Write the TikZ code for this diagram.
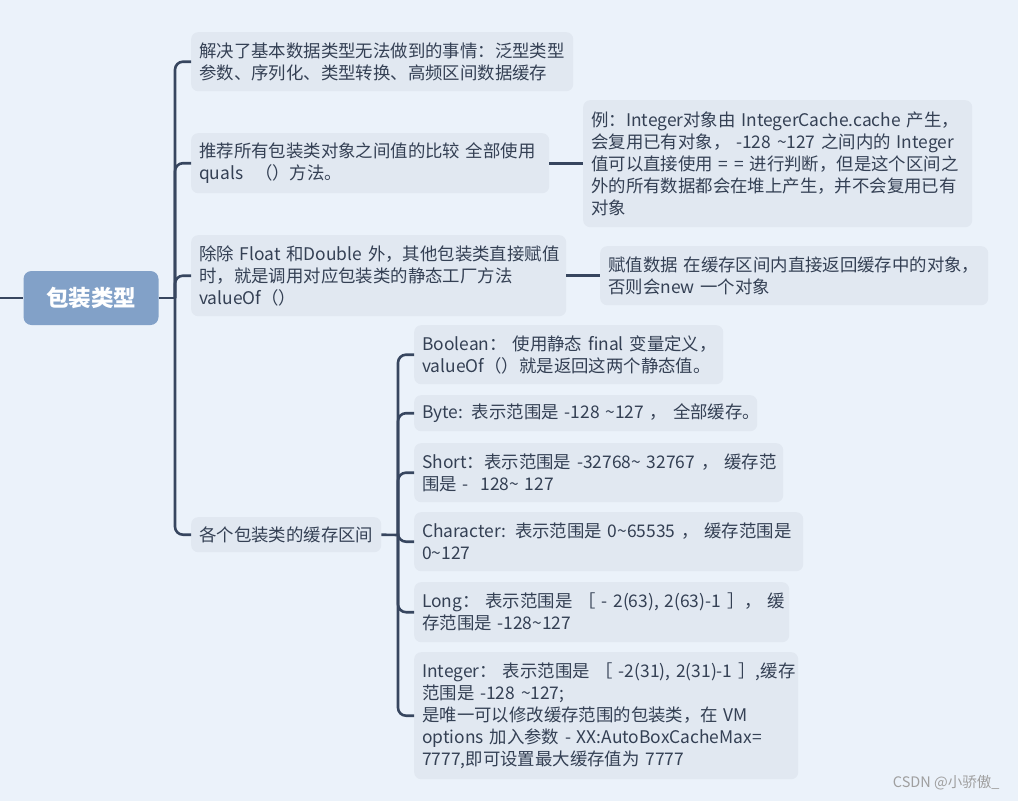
\documentclass[tikz,border=0pt]{standalone}
\usepackage{fontspec}
\setmainfont{Noto Sans CJK SC}
\usetikzlibrary{positioning,backgrounds}

\definecolor{bgblue}{RGB}{235,242,250}
\definecolor{topicfill}{RGB}{225,232,241}
\definecolor{rootfill}{RGB}{130,161,200}
\definecolor{linkcol}{RGB}{55,70,95}
\definecolor{textcol}{RGB}{52,64,84}

\begin{document}
\begin{tikzpicture}[
x=1pt, y=-1pt,
topicbox/.style={
    fill=topicfill,
    rounded corners=7pt,
    anchor=north west,
    inner xsep=8pt,
    inner ysep=0pt,
    align=left,
    text=textcol,
    font=\fontsize{17.4}{22}\selectfont
    },
rootbox/.style={
    fill=rootfill,
    rounded corners=8pt,
    text=white,
    font=\fontsize{22.5}{26}\selectfont\bfseries,
    minimum width=135pt,
    minimum height=54pt,
    inner sep=0pt
    },
linkline/.style={draw=linkcol, line width=2.6pt},
branchline/.style={linkline, rounded corners=8pt}
]

\path[use as bounding box, fill=bgblue] (0,0) rectangle (1018,801);

% central topic
\node[rootbox] (root) at (91,298) {包装类型};
\coordinate (lstub) at (0,298);
\coordinate (rjoin) at (175,298);

% first level
\node[topicbox, text width=366pt, minimum height=59pt] (usage) at (191,32)
    {\mbox{解决了基本数据类型无法做到的事情：泛型类型}\\
     \mbox{参数、序列化、类型转换、高频区间数据缓存}};
\node[topicbox, text width=342pt, minimum height=60pt] (equals) at (191,133)
    {\mbox{推荐所有包装类对象之间值的比较 全部使用}\\
     \mbox{quals \ （）方法。}};
\node[topicbox, text width=373pt, minimum height=127pt] (cacheex) at (583,100)
    {\mbox{例：Integer对象由 IntegerCache.cache 产生，}\\
     \mbox{会复用已有对象， -128 \textasciitilde127 之间内的 Integer}\\
     \mbox{值可以直接使用 = = 进行判断，但是这个区间之}\\
     \mbox{外的所有数据都会在堆上产生，并不会复用已有}\\
     \mbox{对象}};
\node[topicbox, text width=359pt, minimum height=81pt] (valueof) at (191,235)
    {\mbox{除除 Float 和Double 外，其他包装类直接赋值}\\
     \mbox{时，就是调用对应包装类的静态工厂方法}\\
     \mbox{valueOf（）}};
\node[topicbox, text width=372pt, minimum height=59pt] (assign) at (600,246)
    {\mbox{赋值数据 在缓存区间内直接返回缓存中的对象，}\\
     \mbox{否则会new 一个对象}};
\node[topicbox, text width=174pt, minimum height=35pt] (ranges) at (191,517)
    {\mbox{各个包装类的缓存区间}};
\coordinate (sjoin) at (398,535);

% cache ranges
\node[topicbox, text width=293pt, minimum height=59pt] (boolean) at (414,325)
    {\mbox{Boolean： 使用静态 final 变量定义，}\\
     \mbox{valueOf（）就是返回这两个静态值。}};
\node[topicbox, text width=327pt, minimum height=36pt] (byte) at (414,395)
    {\mbox{Byte: 表示范围是 -128 \textasciitilde127 ， 全部缓存。}};
\node[topicbox, text width=353pt, minimum height=59pt] (short) at (414,443)
    {\mbox{Short：表示范围是 -32768\textasciitilde{} 32767 ， 缓存范}\\
     \mbox{围是 - \ 128\textasciitilde{} 127}};
\node[topicbox, text width=373pt, minimum height=59pt] (character) at (414,512)
    {\mbox{Character: 表示范围是 0\textasciitilde65535 ， 缓存范围是}\\
     \mbox{0\textasciitilde127}};
\node[topicbox, text width=359pt, minimum height=60pt] (long) at (414,582)
    {\mbox{Long： 表示范围是 ［ - 2(63), 2(63)-1 ］， 缓}\\
     \mbox{存范围是 -128\textasciitilde127}};
\node[topicbox, text width=368pt, minimum height=127pt] (integer) at (414,652)
    {\mbox{Integer： 表示范围是 ［ -2(31), 2(31)-1 ］,缓存}\\
     \mbox{范围是 -128 \textasciitilde127;}\\
     \mbox{是唯一可以修改缓存范围的包装类，在 VM}\\
     \mbox{options 加入参数 - XX:AutoBoxCacheMax=}\\
     \mbox{7777,即可设置最大缓存值为 7777}};

\node[anchor=east, text=gray!75, font=\fontsize{14.5}{16}\selectfont] (mark) at (1003,783) {CSDN @小骄傲\_};

% connectors
\draw[linkline] (lstub) -- (root.west);
\draw[linkline] (root.east) -- (rjoin);
\draw[branchline] (rjoin) |- (usage.west);
\draw[branchline] (rjoin) |- (equals.west);
\draw[branchline] (rjoin) |- (valueof.west);
\draw[branchline] (rjoin) |- (ranges.west);
\draw[linkline] (equals.east) -- (cacheex.west |- equals.east);
\draw[linkline] (valueof.east) -- (assign.west |- valueof.east);
\draw[linkline] (ranges.east) -- (sjoin);
\draw[branchline] (sjoin) |- (boolean.west);
\draw[branchline] (sjoin) |- (byte.west);
\draw[branchline] (sjoin) |- (short.west);
\draw[branchline] (sjoin) |- (character.west);
\draw[branchline] (sjoin) |- (long.west);
\draw[branchline] (sjoin) |- (integer.west);

\end{tikzpicture}
\end{document}
